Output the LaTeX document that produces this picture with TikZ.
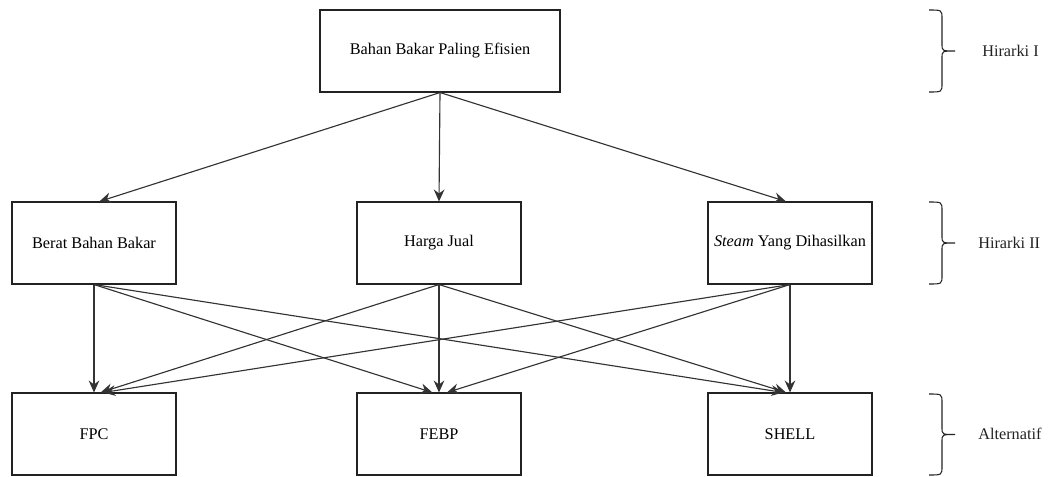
\documentclass[tikz,border=0pt]{standalone}
\usepackage{fontspec}
\setmainfont{Liberation Serif}
\usetikzlibrary{arrows.meta,positioning,calc}
\definecolor{ahpInk}{HTML}{222222}
\definecolor{ahpLine}{HTML}{333333}
\tikzset{
  ahp/base/.style={draw=ahpInk, line width=0.8pt, align=center,
    font=\fontsize{12.2}{14}\selectfont, inner sep=3pt},
  ahp/goal/.style={ahp/base, minimum width=180pt, minimum height=61.5pt},
  ahp/criterion/.style={ahp/base, minimum width=123pt, minimum height=61.5pt},
  ahp/alternative/.style={ahp/criterion},
  ahp/arrow/.style={-{Stealth[length=9pt,width=8pt,inset=3pt]}, draw=ahpLine,
    line width=0.85pt},
  ahp/brace/.style={draw=ahpInk, line width=0.8pt},
  ahp/level/.style={font=\fontsize{12.2}{14}\selectfont, text=ahpInk,
    anchor=west, inner sep=3pt},
}
% curly bracket from #1 (top) to #2 (bottom), x at its open end
\newcommand{\levelbrace}[2]{%
  \draw[ahp/brace] (929,#1) .. controls (942,#1) .. ($(942,#1)+(0,9)$)
    -- ($(942,{(#1+#2)/2})+(0,-7)$) .. controls (942,{(#1+#2)/2}) .. (955,{(#1+#2)/2})
    .. controls (942,{(#1+#2)/2}) .. ($(942,{(#1+#2)/2})+(0,7)$)
    -- ($(942,#2)+(0,-9)$) .. controls (942,#2) .. (929,#2);}

\begin{document}
\begin{tikzpicture}[x=0.75pt, y=-0.75pt]
\useasboundingbox (0,0) rectangle (1049,476);
% goal
\node[ahp/goal] (goal) at (440,51) {Bahan Bakar Paling Efisien};
% criteria
\node[ahp/criterion] (berat) at (94,243) {Berat Bahan Bakar};
\node[ahp/criterion] (harga) at (439,243) {Harga Jual};
\node[ahp/criterion] (steam) at (790,243) {\textit{Steam} Yang Dihasilkan};
% alternatives
\node[ahp/alternative] (fpc) at (94,434) {FPC};
\node[ahp/alternative] (febp) at (439,434) {FEBP};
\node[ahp/alternative] (shell) at (790,434) {SHELL};
% levels
\levelbrace{10}{92}
\levelbrace{202}{284}
\levelbrace{394}{475}
\node[ahp/level] (lvl1) at (978,51) {Hirarki I};
\node[ahp/level] (lvl2) at (974,243) {Hirarki II};
\node[ahp/level] (lvl3) at (974,434) {Alternatif};
% goal to criteria
\draw[ahp/arrow] (goal.south) -- ([xshift=4pt]berat.north);
\draw[ahp/arrow] (goal.south) -- (harga.north);
\draw[ahp/arrow] (goal.south) -- ([xshift=-3pt]steam.north);
% criteria to alternatives
\draw[ahp/arrow] (berat.south) -- (fpc.north);
\draw[ahp/arrow] (berat.south) -- ([xshift=-5pt]febp.north);
\draw[ahp/arrow] (berat.south) -- ([xshift=-5pt]shell.north);
\draw[ahp/arrow] (harga.south) -- ([xshift=5pt]fpc.north);
\draw[ahp/arrow] (harga.south) -- (febp.north);
\draw[ahp/arrow] (harga.south) -- ([xshift=-3pt]shell.north);
\draw[ahp/arrow] (steam.south) -- ([xshift=7pt]fpc.north);
\draw[ahp/arrow] (steam.south) -- ([xshift=6pt]febp.north);
\draw[ahp/arrow] (steam.south) -- (shell.north);
\end{tikzpicture}
\end{document}
